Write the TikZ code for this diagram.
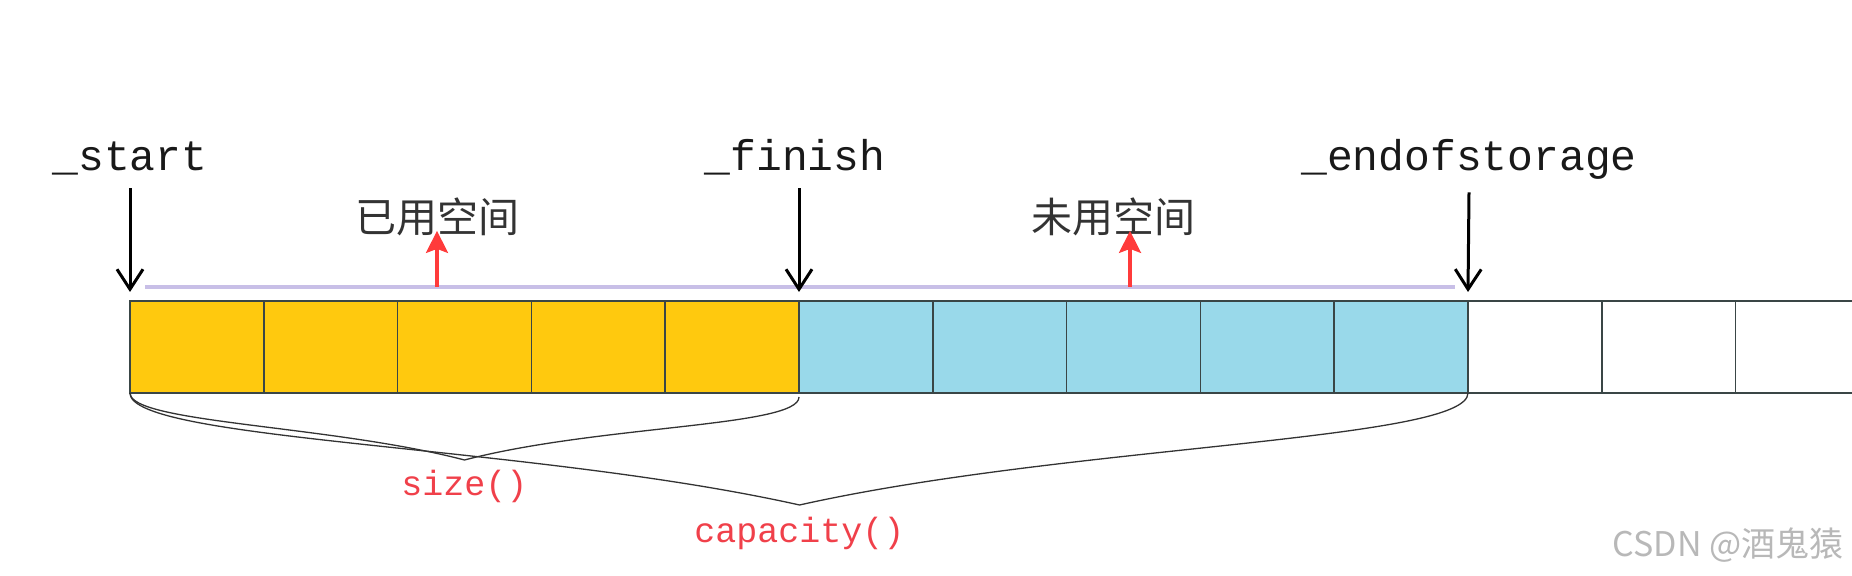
\documentclass[tikz,border=0pt]{standalone}
\usepackage{fontspec}
\newfontfamily\labelfont{Liberation Mono}
\newfontfamily\cjkfont{Noto Sans CJK SC}
\usetikzlibrary{arrows.meta,positioning,calc}

\definecolor{usedfill}{HTML}{FFC90E}
\definecolor{freefill}{HTML}{99D9EA}
\definecolor{cellline}{HTML}{3A4646}
\definecolor{spanline}{HTML}{C8BFE7}
\definecolor{markred}{HTML}{FF3B3B}
\definecolor{textred}{HTML}{F0404A}

\begin{document}
\begin{tikzpicture}[x=0.5pt, y=-0.5pt,
    cell/.style={draw=cellline, line width=0.75pt, minimum width=66.9pt,
                 minimum height=46pt, inner sep=0pt, outer sep=0pt, anchor=north west},
    ptrlabel/.style={font=\labelfont\fontsize{21.5pt}{24pt}\selectfont, text=black!90,
                     anchor=base, inner sep=0pt},
    spacelabel/.style={font=\cjkfont\fontsize{20.5pt}{24pt}\selectfont, text=black!80,
                       anchor=base, inner sep=0pt},
    funlabel/.style={font=\labelfont\fontsize{17.5pt}{20pt}\selectfont, text=textred,
                     inner sep=0pt},
    ptr/.style={-{Straight Barb[length=10pt, width=13pt]}, line width=1.5pt},
    redarr/.style={-{Stealth[length=11pt, width=11pt, inset=2pt]}, line width=1.8pt,
                   draw=markred, fill=markred, shorten >=-3pt},
    span/.style={draw=spanline, line width=2.3pt},
    brace/.style={draw=black!80, line width=0.65pt}
  ]
  \useasboundingbox (0,0) rectangle (1852,576);
  \clip (0,0) rectangle (1852,576);

  % storage cells
  \foreach \i in {1,...,13} {
    \pgfmathsetmacro\cx{130+133.8*(\i-1)}
    \ifnum\i<6 \def\cf{usedfill}\else\ifnum\i<11 \def\cf{freefill}\else\def\cf{white}\fi\fi
    \node[cell, fill=\cf] (c\i) at (\cx,301) {};
  }

  % pointers
  \node[ptrlabel] (lstart)  at (130,171)  {\_start};
  \node[ptrlabel] (lfinish) at (795,171)  {\_finish};
  \node[ptrlabel] (lend)    at (1469,171) {\_endofstorage};

  \coordinate (sl) at ($(c1.north west)+(15,-14)$);
  \coordinate (sr) at ($(c11.north west)+(-13,-14)$);
  \draw[span] (sl) -- (sr);

  \draw[ptr] (lstart.south)  ++(0,12) -- ([yshift=4.5pt]c1.north west);
  \draw[ptr] (lfinish.south -| c6.north west) ++(0,12) -- ([yshift=4.5pt]c6.north west);
  \draw[ptr] (lend.south)    ++(0,12) -- ([yshift=4.5pt]c11.north west);

  % used / free space
  \node[spacelabel] (used) at (437,233)  {已用空间};
  \node[spacelabel] (free) at (1113,233) {未用空间};
  \coordinate (m1) at (437,287);
  \coordinate (m2) at (1130,287);
  \draw[redarr] (m1) -- (m1 |- used.south);
  \draw[redarr] (m2) -- (m2 |- free.south);

  % size() and capacity()
  \coordinate (stip) at (464.5,460);
  \coordinate (ctip) at (799.5,505);
  \draw[brace] (c1.south west) .. controls +(0,30) and +(-134,-35) .. (stip)
               .. controls +(134,-35) and +(0,30) .. ([yshift=-2pt]c5.south east);
  \draw[brace] (c1.south west) .. controls +(0,48) and +(-268,-60) .. (ctip)
               .. controls +(268,-60) and +(0,48) .. (c10.south east);
  \node[funlabel, below=5pt of stip] (size) {size()};
  \node[funlabel, below=6pt of ctip] (cap)  {capacity()};

  \node[font=\cjkfont\fontsize{17pt}{20pt}\selectfont, text=black!28, inner sep=0pt]
       (wm) at (1728,545) {CSDN @酒鬼猿};
\end{tikzpicture}
\end{document}
